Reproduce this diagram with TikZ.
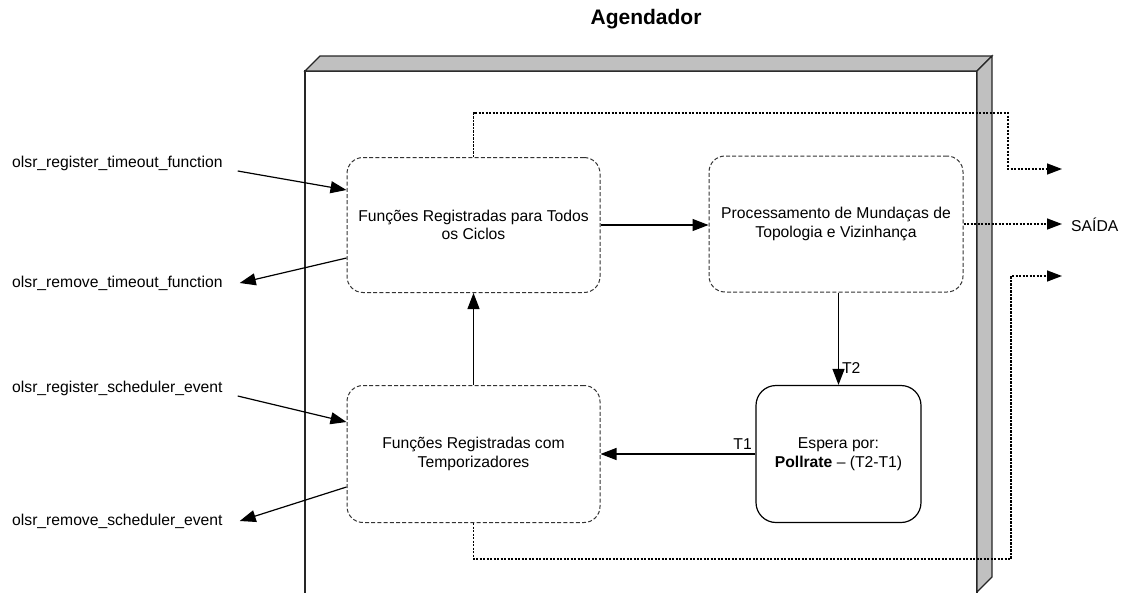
\documentclass[tikz,border=0pt]{standalone}
\usepackage{fontspec}
\setmainfont{Liberation Sans}
\usetikzlibrary{arrows.meta}
\definecolor{framegray}{RGB}{192,192,192}
\tikzset{
  body/.style={font=\fontsize{15.7}{18.5}\selectfont},
  frameline/.style={line width=1.2pt, draw=black!85},
  dbox/.style={draw=black!80, dash pattern=on 4pt off 2.2pt, line width=1pt, rounded corners=16pt, align=center, body},
  sbox/.style={draw=black, line width=1.2pt, rounded corners=20pt, align=center, body},
  arr/.style={line width=1.2pt, -{Triangle[length=16pt,width=12pt]}},
  dotarr/.style={line width=1.4pt, dash pattern=on 2.2pt off 1.3pt, -{Triangle[length=15pt,width=11pt]}},
  lab/.style={body, inner sep=0pt},
}
\begin{document}
\begin{tikzpicture}[x=1pt,y=-1pt]
\useasboundingbox (0,0) rectangle (1122,592);
\begin{scope}
\clip (0,0) rectangle (1122,592);
% 3D frame
\draw[frameline] (305,600) -- (305,71) -- (977,71) -- (977,600);
\filldraw[frameline, fill=framegray] (305,71) -- (320,56) -- (992,56) -- (977,71) -- cycle;
\filldraw[frameline, fill=framegray] (977,71) -- (992,56) -- (992,577) -- (977,592) -- (977,71) -- cycle;
\end{scope}

% title
\node[font=\fontsize{21}{25}\selectfont\bfseries] (title) at (646,19) {Agendador};

% boxes
\node[dbox, minimum width=253pt, minimum height=135pt] (A) at (473.5,225) {Funções Registradas para Todos\\os Ciclos};
\node[dbox, minimum width=254pt, minimum height=136pt] (B) at (836,224) {Processamento de Mundaças de\\Topologia e Vizinhança};
\node[dbox, minimum width=253pt, minimum height=137pt] (C) at (473.5,454) {Funções Registradas com\\Temporizadores};
\node[sbox, minimum width=165pt, minimum height=137pt] (D) at (838.5,454) {Espera por:\\\textbf{Pollrate} -- (T2-T1)};

% left labels
\node[lab, anchor=west] (l1) at (12,163) {olsr\_register\_timeout\_function};
\node[lab, anchor=west] (l2) at (12,283) {olsr\_remove\_timeout\_function};
\node[lab, anchor=west] (l3) at (12,388) {olsr\_register\_scheduler\_event};
\node[lab, anchor=west] (l4) at (12,521) {olsr\_remove\_scheduler\_event};

% left arrows
\draw[arr] ([xshift=15pt,yshift=-8pt]l1.east) -- ([yshift=35pt]A.west);
\draw[arr] ([yshift=-33pt]A.west) -- ([xshift=17pt]l2.east);
\draw[arr] ([xshift=15pt,yshift=-8pt]l3.east) -- ([yshift=32pt]C.west);
\draw[arr] ([yshift=-33pt]C.west) -- ([xshift=17pt]l4.east);

% internal arrows
\draw[arr] (A.east) -- (B.west |- A.east);
\draw[arr] (D.north |- B.south) -- node[pos=0.82, right, lab, xshift=3pt] {T2} (D.north);
\draw[arr] (D.west) -- node[pos=0.0, above left, lab, xshift=-3pt, yshift=4pt] {T1} (C.east);
\draw[arr] (C.north) -- (A.south);

% dotted outputs
\coordinate (t1) at (1008,113);
\coordinate (o1) at (1062,169);
\coordinate (o2) at (1062,224);
\coordinate (t3) at (1011,559);
\coordinate (o3) at (1062,276);
\draw[dotarr] (A.north) |- (t1) |- (o1);
\draw[dotarr] (B.east) -- (o2 |- B.east);
\draw[dotarr] (C.south) |- (t3) |- (o3);
\node[lab, anchor=west] (out) at (1071,225) {SAÍDA};
\end{tikzpicture}
\end{document}
